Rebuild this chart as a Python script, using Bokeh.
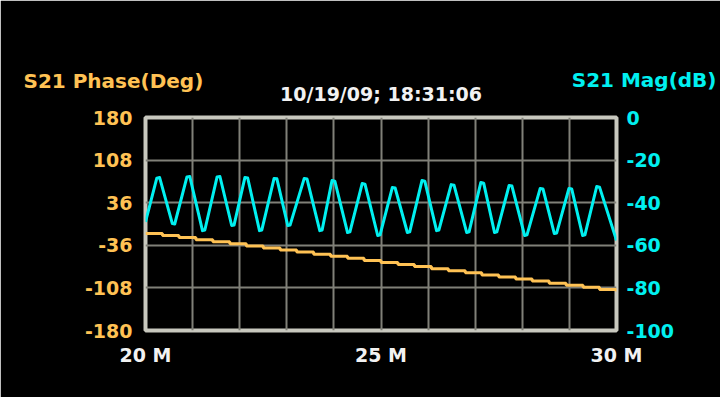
from bokeh.plotting import figure
from bokeh.models import Range1d, LinearAxis, FixedTicker, Title
from bokeh.embed import file_html
from bokeh.resources import INLINE

# ---- data ----
mag_freq = [20.00,
            20.24, 20.30, 20.57, 20.62, 20.88, 20.94, 21.21, 21.26, 21.52, 21.58,
            21.83, 21.88, 22.11, 22.17, 22.42, 22.47, 22.73, 22.79, 23.02, 23.07,
            23.37, 23.43, 23.70, 23.75, 23.96, 24.02, 24.29, 24.34, 24.60, 24.66,
            24.93, 24.98, 25.24, 25.30, 25.56, 25.61, 25.87, 25.93, 26.18, 26.23,
            26.49, 26.55, 26.82, 26.87, 27.12, 27.18, 27.41, 27.46, 27.72, 27.78,
            28.05, 28.10, 28.38, 28.44, 28.68, 28.73, 28.99, 29.05, 29.28, 29.33,
            29.58, 29.64,
            30.00]
mag_db = [-49.0,
          -28.5, -28.2, -49.8, -50.0, -27.9, -27.7, -53.1, -52.8, -27.9, -27.7,
          -50.7, -50.5, -28.2, -28.4, -53.1, -52.8, -28.6, -28.8, -50.7, -50.5,
          -28.6, -28.9, -53.1, -52.8, -29.6, -29.9, -54.0, -53.7, -31.0, -31.3,
          -55.4, -55.1, -32.9, -33.1, -54.0, -53.7, -29.6, -29.9, -53.1, -52.8,
          -31.5, -31.8, -54.0, -53.7, -30.5, -30.8, -54.0, -53.7, -31.9, -32.2,
          -55.4, -55.1, -33.3, -33.6, -54.5, -54.2, -33.3, -33.6, -55.4, -55.1,
          -32.4, -32.7,
          -57.7]

phase_freq = [20.00, 20.36, 20.71, 21.07, 21.43, 21.79, 22.14, 22.50, 22.86, 23.21,
              23.57, 23.93, 24.29, 24.64, 25.00, 25.36, 25.71, 26.07, 26.43, 26.79,
              27.14, 27.50, 27.86, 28.21, 28.57, 28.93, 29.29, 29.64, 30.00]
phase_deg = [-16.0, -19.5, -23.0, -26.5, -30.0, -33.5, -37.0, -40.5, -44.0, -47.5,
             -51.0, -54.5, -58.0, -61.5, -65.0, -68.5, -72.0, -75.5, -79.0, -82.5,
             -86.0, -89.5, -93.0, -96.5, -100.0, -103.5, -107.0, -110.5, -114.0]

phase_ticks = [180, 108, 36, -36, -108, -180]
mag_ticks = [0, -20, -40, -60, -80, -100]
freq_ticks = [20, 25, 30]
freq_labels = ["20 M", "25 M", "30 M"]
freq_grid = [20, 21, 22, 23, 24, 25, 26, 27, 28, 29, 30]

title_text = "10/19/09; 18:31:06"
phase_title = "S21 Phase(Deg)"
mag_title = "S21 Mag(dB)"

# ---- styling ----
ORANGE = "#FFC254"
CYAN = "#00F0F0"
WHITE = "#F2F2F2"
FONT = "DejaVu Sans"

W, H = 720, 397
p = figure(width=W, height=H, output_backend="svg", toolbar_location=None,
           x_range=Range1d(20, 30), y_range=Range1d(-180, 180),
           min_border_left=145, min_border_right=104, min_border_top=117,
           min_border_bottom=67)
p.background_fill_color = "black"
p.border_fill_color = "black"
p.outline_line_color = "#C8C8BE"
p.outline_line_width = 4

p.extra_y_ranges = {"mag": Range1d(-100, 0)}

p.xgrid.ticker = FixedTicker(ticks=freq_grid)
p.ygrid.ticker = FixedTicker(ticks=phase_ticks)
for g in (p.xgrid, p.ygrid):
    g.grid_line_color = "#808078"
    g.grid_line_width = 2

def style_axis(ax, color, standoff):
    ax.axis_line_color = None
    ax.major_tick_line_color = None
    ax.minor_tick_line_color = None
    ax.major_tick_in = 0
    ax.major_tick_out = 0
    ax.minor_tick_in = 0
    ax.minor_tick_out = 0
    ax.major_label_text_color = color
    ax.major_label_text_font = FONT
    ax.major_label_text_font_style = "bold"
    ax.major_label_text_font_size = "19px"
    ax.major_label_standoff = standoff

xa = p.xaxis[0]
xa.ticker = FixedTicker(ticks=freq_ticks)
xa.major_label_overrides = {t: s for t, s in zip(freq_ticks, freq_labels)}
style_axis(xa, WHITE, 13)

ya = p.yaxis[0]
ya.ticker = FixedTicker(ticks=phase_ticks)
ya.major_label_overrides = {t: str(t) for t in phase_ticks}
style_axis(ya, ORANGE, 13)

ra = LinearAxis(y_range_name="mag", ticker=FixedTicker(ticks=mag_ticks))
ra.major_label_overrides = {t: str(t) for t in mag_ticks}
style_axis(ra, CYAN, 10)
p.add_layout(ra, "right")

p.step(phase_freq, phase_deg, mode="after", line_color=ORANGE, line_width=3)
p.line(mag_freq, mag_db, y_range_name="mag", line_color=CYAN, line_width=3,
       line_join="round")

# titles, stacked outward from the frame
p.add_layout(Title(text=" ", text_color="black", text_font_size="10px",
                   standoff=0), "above")  # spacer row next to the frame
p.add_layout(Title(text=title_text, align="center", text_color=WHITE,
                   text_font=FONT, text_font_style="bold",
                   text_font_size="19px", standoff=0), "above")
p.add_layout(Title(text=phase_title, align="left", offset=-122,
                   text_color=ORANGE, text_font=FONT, text_font_style="bold",
                   text_font_size="20px", standoff=-25), "above")
p.add_layout(Title(text=mag_title, align="right", offset=-100,
                   text_color=CYAN, text_font=FONT, text_font_style="bold",
                   text_font_size="20px", standoff=-25), "above")

open("out.html", "w").write(file_html(p, INLINE))
